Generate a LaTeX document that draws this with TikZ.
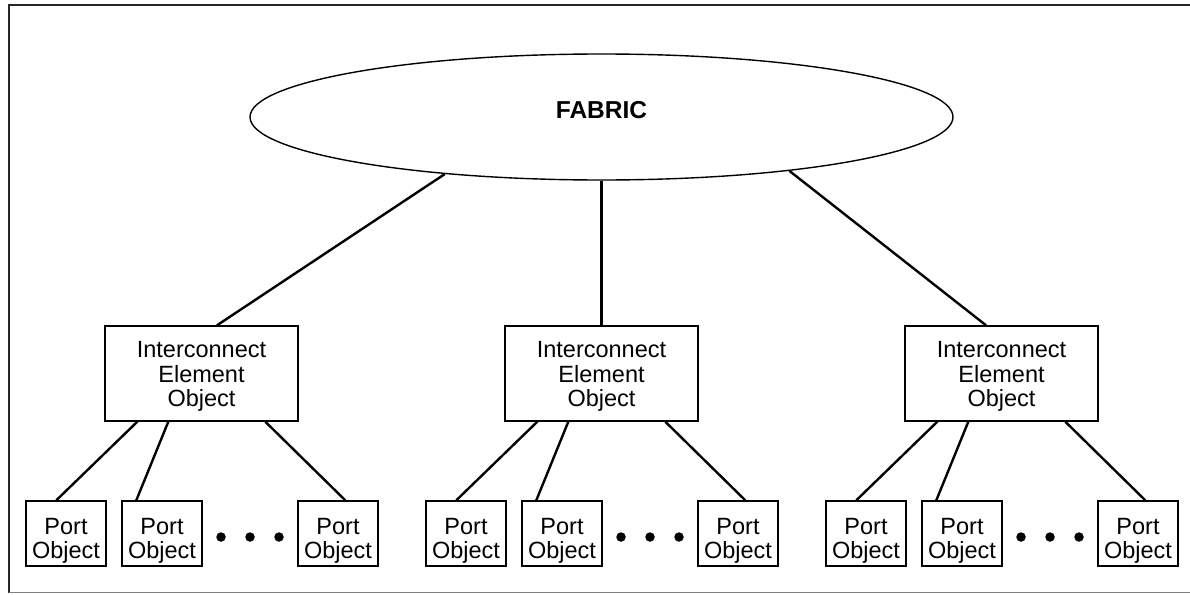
\documentclass[tikz,border=0pt]{standalone}
\usepackage{fontspec}
\setmainfont{Liberation Sans}
\usetikzlibrary{shapes.geometric}
\begin{document}
\begin{tikzpicture}[x=1pt,y=-1pt,
  conn/.style={line width=2.4pt},
  frameline/.style={line width=2.2pt, color=black!85},
  icebox/.style={draw, line width=1.4pt, minimum width=193pt, minimum height=95pt, inner sep=0pt, align=center,
    text height=66pt, text depth=0pt, font=\fontsize{23.5}{24.5}\selectfont},
  portbox/.style={draw, line width=1.4pt, minimum width=80pt, minimum height=65pt, inner sep=0pt, align=center,
    text height=49pt, text depth=0pt, font=\fontsize{23.5}{24}\selectfont},
  dotmark/.style={circle, fill, inner sep=0pt, minimum size=9.5pt}]
\useasboundingbox (0,0) rectangle (1190,594);
% frame
\draw[frameline] (1190,5) -- (9,5) -- (9,593);
\draw[gray, line width=1pt] (9,592.5) -- (1190,592.5);
% fabric
\node[ellipse, draw, line width=1.4pt, minimum width=703pt, minimum height=126pt, inner sep=0pt,
      font=\fontsize{24.5}{27}\selectfont\bfseries] (fabric) at (601.5,117) {\raisebox{-1pt}[0pt][0pt]{FABRIC}};
% groups
\foreach \g/\cx in {1/201.5, 2/601.5, 3/1001.5}{
  \node[icebox] (ice\g) at (\cx,373.5) {Interconnect\\Element\\Object};
  \node[portbox] (p\g a) at (\cx-135.5,533.5) {Port\\Object};
  \node[portbox] (p\g b) at (\cx-39.5,533.5) {Port\\Object};
  \node[portbox] (p\g c) at (\cx+136.5,533.5) {Port\\Object};
  \node[dotmark] (d\g a) at (\cx+19.5,537) {};
  \node[dotmark] (d\g b) at (\cx+48.5,537) {};
  \node[dotmark] (d\g c) at (\cx+77.5,537) {};
  \draw[conn] ([xshift=33pt]ice\g.south west) -- ([xshift=31pt]p\g a.north west);
  \draw[conn] ([xshift=64pt]ice\g.south west) -- ([xshift=15pt]p\g b.north west);
  \draw[conn] ([xshift=161pt]ice\g.south west) -- ([xshift=48pt]p\g c.north west);
}
% fabric connectors
\draw[conn] (fabric.200) -- ([xshift=15.5pt]ice1.north);
\draw[conn] (fabric.south) -- (ice2.north);
\draw[conn] (fabric.344.6) -- ([xshift=-15.5pt]ice3.north);
\end{tikzpicture}
\end{document}
